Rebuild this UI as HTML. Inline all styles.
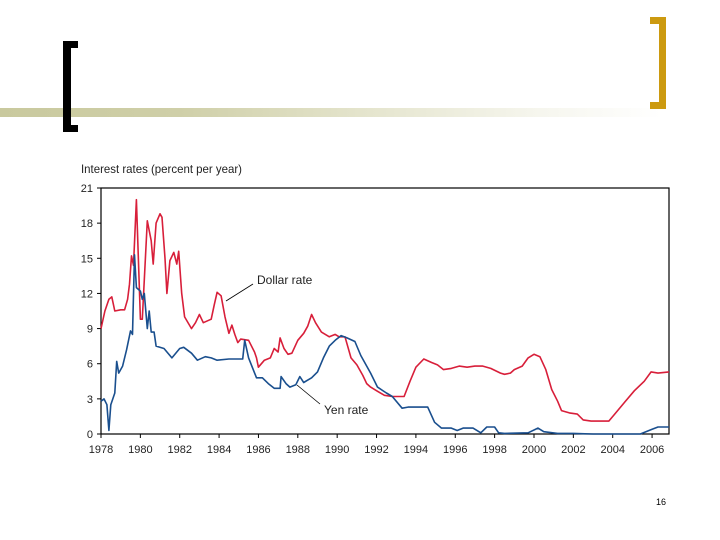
<!DOCTYPE html>
<html><head><meta charset="utf-8"><style>
body{margin:0;background:#fff;}
#wrap{position:relative;width:720px;height:540px;overflow:hidden;background:#fff;font-family:"Liberation Sans",sans-serif;}
.abs{position:absolute;}
</style></head><body>
<div id="wrap">
<div class="abs" style="left:0;top:108px;width:720px;height:9px;background:linear-gradient(to right,#c9c99e 0%,#cfcfa8 25%,#e4e4cc 50%,#f6f6ee 75%,#fff 92%);"></div>
<svg class="abs" style="left:0;top:0" width="720" height="540">
<path d="M78,41 H63 V132 H78 V125 H71 V48 H78 Z" fill="#000"/>
<path d="M650,17 H666 V109 H650 V102 H659 V24 H650 Z" fill="#cc9a10"/>
</svg>
<svg id="chart" class="abs" style="left:0;top:0" width="720" height="540"></svg>
<div class="abs" style="left:656px;top:497px;font-size:9px;color:#000;">16</div>
</div>
<script>
const yTicks=[0,3,6,9,12,15,18,21];
const xTicks=[1978,1980,1982,1984,1986,1988,1990,1992,1994,1996,1998,2000,2002,2004,2006];
const dollarYears=[1978.0,1978.2,1978.4,1978.55,1978.7,1979.0,1979.2,1979.35,1979.45,1979.55,1979.65,1979.8,1980.0,1980.1,1980.35,1980.55,1980.65,1980.8,1981.0,1981.1,1981.25,1981.35,1981.5,1981.7,1981.85,1981.95,1982.1,1982.25,1982.6,1982.8,1983.0,1983.2,1983.6,1983.75,1983.9,1984.1,1984.3,1984.5,1984.65,1984.8,1984.95,1985.1,1985.5,1985.8,1985.9,1986.0,1986.3,1986.6,1986.8,1987.0,1987.1,1987.3,1987.5,1987.7,1988.0,1988.3,1988.5,1988.7,1988.9,1989.2,1989.6,1989.9,1990.1,1990.4,1990.7,1991.0,1991.3,1991.5,1991.7,1992.0,1992.4,1992.8,1993.4,1993.7,1994.0,1994.4,1994.8,1995.1,1995.4,1995.8,1996.2,1996.6,1997.0,1997.4,1997.8,1998.3,1998.5,1998.8,1999.0,1999.4,1999.7,2000.0,2000.3,2000.6,2000.9,2001.2,2001.4,2001.8,2002.2,2002.5,2002.9,2003.8,2004.1,2004.6,2005.1,2005.6,2005.95,2006.3,2006.86];
const dollarRates=[9.0,10.5,11.5,11.7,10.5,10.6,10.6,11.5,12.8,15.2,14.4,20.0,9.8,9.8,18.2,16.5,14.5,18.0,18.8,18.5,15.0,12.0,14.8,15.5,14.5,15.6,12.0,10.0,9.0,9.5,10.2,9.5,9.8,11.0,12.1,11.8,10.0,8.6,9.3,8.5,7.8,8.1,8.0,7.0,6.5,5.7,6.3,6.5,7.3,7.0,8.2,7.3,6.8,6.9,8.0,8.6,9.2,10.2,9.5,8.7,8.3,8.5,8.3,8.3,6.5,5.9,5.0,4.3,4.0,3.7,3.3,3.2,3.2,4.5,5.7,6.4,6.1,5.9,5.5,5.6,5.8,5.7,5.8,5.8,5.6,5.2,5.1,5.2,5.5,5.8,6.5,6.8,6.6,5.5,3.8,2.8,2.0,1.8,1.7,1.2,1.1,1.1,1.7,2.7,3.7,4.5,5.3,5.2,5.3];
const yenYears=[1978.0,1978.15,1978.3,1978.4,1978.5,1978.7,1978.8,1978.9,1979.1,1979.3,1979.5,1979.6,1979.7,1979.8,1980.0,1980.1,1980.2,1980.35,1980.45,1980.55,1980.7,1980.8,1981.2,1981.6,1982.0,1982.2,1982.6,1982.9,1983.3,1983.6,1983.9,1984.5,1985.2,1985.3,1985.5,1985.9,1986.2,1986.5,1986.8,1987.1,1987.15,1987.4,1987.6,1987.9,1988.1,1988.3,1988.7,1989.0,1989.3,1989.6,1989.9,1990.2,1990.5,1990.9,1991.2,1991.7,1992.05,1992.5,1992.8,1993.3,1993.6,1994.3,1994.6,1994.95,1995.3,1995.8,1996.1,1996.4,1996.9,1997.3,1997.6,1998.0,1998.2,1998.5,1999.7,2000.2,2000.5,2001.2,2002.0,2003.0,2004.5,2005.4,2006.0,2006.3,2006.86];
const yenRates=[2.8,3.0,2.5,0.3,2.5,3.5,6.2,5.2,5.8,7.2,8.8,8.5,15.3,12.5,12.2,11.5,12.0,9.0,10.5,8.7,8.7,7.5,7.3,6.5,7.3,7.4,6.9,6.3,6.6,6.5,6.3,6.4,6.4,8.0,6.5,4.8,4.8,4.3,3.9,3.9,4.9,4.3,4.0,4.2,4.9,4.4,4.8,5.3,6.5,7.5,8.0,8.4,8.2,7.9,6.7,5.2,4.0,3.5,3.2,2.2,2.3,2.3,2.3,1.0,0.5,0.5,0.3,0.5,0.5,0.1,0.6,0.6,0.1,0.05,0.1,0.5,0.2,0.05,0.05,0.0,0.0,0.0,0.4,0.6,0.6];

const NS='http://www.w3.org/2000/svg';
const svg=document.getElementById('chart');
const L=101,R=669,T=188,B=434;
const x=y=>L+(y-1978)*(R-L)/(2006.86-1978);
const yy=v=>B-v*(B-T)/21;
function mk(tag,attrs,parent){const e=document.createElementNS(NS,tag);for(const k in attrs)e.setAttribute(k,attrs[k]);(parent||svg).appendChild(e);return e;}
const frame=mk('rect',{x:L,y:T,width:R-L,height:B-T,fill:'none',stroke:'#000','stroke-width':1.2});


yTicks.forEach(v=>{
  const t=mk('line',{x1:L-4,x2:L,y1:yy(v),y2:yy(v),stroke:'#000'});
  
  
  const tx=mk('text',{x:L-8,y:yy(v)+4,'text-anchor':'end','font-size':11,fill:'#222'});
  tx.textContent=v;
  
  
});
xTicks.forEach(v=>{
  const t=mk('line',{x1:x(v),x2:x(v),y1:B,y2:B+4,stroke:'#000'});
  
  
  const tx=mk('text',{x:x(v),y:B+19,'text-anchor':'middle','font-size':11,fill:'#222'});
  tx.textContent=v;
  
  
});
const title=mk('text',{x:81,y:173,'font-size':12,fill:'#222',textLength:161,lengthAdjust:'spacingAndGlyphs'});
title.textContent='Interest rates (percent per year)';


function line(xs,vs,color,name){
  const d=xs.map((a,i)=>(i?'L':'M')+x(a).toFixed(1)+','+yy(vs[i]).toFixed(1)).join('');
  const p=mk('path',{d:d,fill:'none',stroke:color,'stroke-width':1.6,'stroke-linejoin':'round'});
  
  
}
line(dollarYears,dollarRates,'#d81f3a','dollar-rate-line');
line(yenYears,yenRates,'#1a4f8e','yen-rate-line');
const l1=mk('line',{x1:226,y1:301,x2:253,y2:284,stroke:'#000','stroke-width':0.8});


const t1=mk('text',{x:257,y:284,'font-size':12,fill:'#222'});
t1.textContent='Dollar rate';


const l2=mk('line',{x1:297,y1:385,x2:320,y2:404,stroke:'#000','stroke-width':0.8});


const t2=mk('text',{x:324,y:414,'font-size':12,fill:'#222'});
t2.textContent='Yen rate';


</script>
</body></html>
